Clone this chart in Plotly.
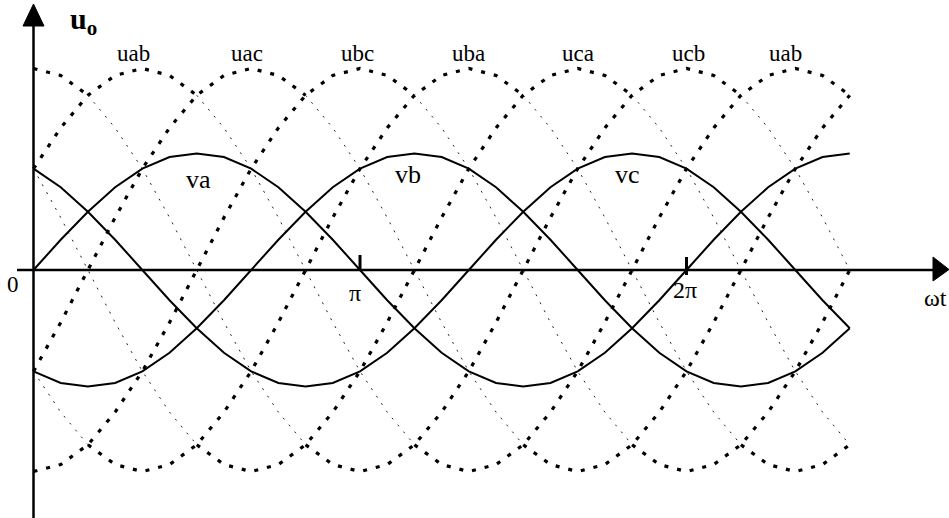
import plotly.graph_objects as go

W, H = 949, 518

# electrical angle in degrees, sampled every 15 degrees
deg = list(range(0, 451, 15))

# phase voltages (per unit)
va = [0, .26, .5, .71, .87, .97, 1, .97, .87, .71, .5, .26, 0, -.26, -.5, -.71,
      -.87, -.97, -1, -.97, -.87, -.71, -.5, -.26, 0, .26, .5, .71, .87, .97, 1]
vb = [-.87, -.97, -1, -.97, -.87, -.71, -.5, -.26, 0, .26, .5, .71, .87, .97, 1, .97,
      .87, .71, .5, .26, 0, -.26, -.5, -.71, -.87, -.97, -1, -.97, -.87, -.71, -.5]
vc = [.87, .71, .5, .26, 0, -.26, -.5, -.71, -.87, -.97, -1, -.97, -.87, -.71, -.5, -.26,
      0, .26, .5, .71, .87, .97, 1, .97, .87, .71, .5, .26, 0, -.26, -.5]

# line voltages (per unit)
uab = [.87, 1.22, 1.5, 1.67, 1.73, 1.67, 1.5, 1.22, .87, .45, 0, -.45, -.87, -1.22, -1.5, -1.67,
       -1.73, -1.67, -1.5, -1.22, -.87, -.45, 0, .45, .87, 1.22, 1.5, 1.67, 1.73, 1.67, 1.5]
uba = [-.87, -1.22, -1.5, -1.67, -1.73, -1.67, -1.5, -1.22, -.87, -.45, 0, .45, .87, 1.22, 1.5, 1.67,
       1.73, 1.67, 1.5, 1.22, .87, .45, 0, -.45, -.87, -1.22, -1.5, -1.67, -1.73, -1.67, -1.5]
ubc = [-1.73, -1.67, -1.5, -1.22, -.87, -.45, 0, .45, .87, 1.22, 1.5, 1.67, 1.73, 1.67, 1.5, 1.22,
       .87, .45, 0, -.45, -.87, -1.22, -1.5, -1.67, -1.73, -1.67, -1.5, -1.22, -.87, -.45, 0]
ucb = [1.73, 1.67, 1.5, 1.22, .87, .45, 0, -.45, -.87, -1.22, -1.5, -1.67, -1.73, -1.67, -1.5, -1.22,
       -.87, -.45, 0, .45, .87, 1.22, 1.5, 1.67, 1.73, 1.67, 1.5, 1.22, .87, .45, 0]
uca = [.87, .45, 0, -.45, -.87, -1.22, -1.5, -1.67, -1.73, -1.67, -1.5, -1.22, -.87, -.45, 0, .45,
       .87, 1.22, 1.5, 1.67, 1.73, 1.67, 1.5, 1.22, .87, .45, 0, -.45, -.87, -1.22, -1.5]
uac = [-.87, -.45, 0, .45, .87, 1.22, 1.5, 1.67, 1.73, 1.67, 1.5, 1.22, .87, .45, 0, -.45,
       -.87, -1.22, -1.5, -1.67, -1.73, -1.67, -1.5, -1.22, -.87, -.45, 0, .45, .87, 1.22, 1.5]

top_labels = ['uab', 'uac', 'ubc', 'uba', 'uca', 'ucb', 'uab']
phase_labels = ['va', 'vb', 'vc']

# pixel mapping used for the plot ranges
X0, PX_PER_DEG = 33.5, 326.5 / 180
Y0, PX_PER_UNIT = 270, 116.5


def px(x):
    return x / W


def py(y):
    return 1 - y / H


fig = go.Figure()

# line voltages: heavy dots on the envelopes / rising parts, light dots when falling between envelopes
for u in [uab, uba, ubc, ucb, uca, uac]:
    thick_x, thick_y, thin_x, thin_y = [], [], [], []
    for i in range(len(deg) - 1):
        thin = u[i + 1] < u[i] and u[i] <= 1.5 and u[i + 1] >= -1.5
        xs, ys = (thin_x, thin_y) if thin else (thick_x, thick_y)
        if xs and xs[-1] == deg[i]:
            xs.append(deg[i + 1])
            ys.append(u[i + 1])
        else:
            if xs:
                xs.append(None)
                ys.append(None)
            xs += [deg[i], deg[i + 1]]
            ys += [u[i], u[i + 1]]
    fig.add_trace(go.Scatter(x=thin_x, y=thin_y, mode='lines', showlegend=False,
                             line=dict(color='#222222', width=1, dash='2px,7px')))
    fig.add_trace(go.Scatter(x=thick_x, y=thick_y, mode='lines', showlegend=False,
                             line=dict(color='black', width=3.2, dash='4px,9px')))

# phase voltages
for v in [va, vb, vc]:
    fig.add_trace(go.Scatter(x=deg, y=v, mode='lines', showlegend=False,
                             line=dict(color='black', width=2)))

shapes = [
    # x axis with arrow
    dict(type='line', xref='paper', yref='paper', x0=px(17), x1=px(936), y0=py(270), y1=py(270),
         line=dict(color='black', width=2.5)),
    dict(type='path', xref='paper', yref='paper',
         path=f'M {px(933)} {py(257)} L {px(949)} {py(269.5)} L {px(933)} {py(281)} Z',
         fillcolor='black', line=dict(color='black', width=1)),
    # y axis with arrow
    dict(type='line', xref='paper', yref='paper', x0=px(33.5), x1=px(33.5), y0=py(22), y1=py(518),
         line=dict(color='black', width=2.5)),
    dict(type='path', xref='paper', yref='paper',
         path=f'M {px(23)} {py(26)} L {px(33.5)} {py(4)} L {px(44)} {py(26)} Z',
         fillcolor='black', line=dict(color='black', width=1)),
    # ticks at pi and 2pi
    dict(type='line', xref='x', yref='paper', x0=180, x1=180, y0=py(270), y1=py(255),
         line=dict(color='black', width=3)),
    dict(type='line', xref='x', yref='paper', x0=360, x1=360, y0=py(275), y1=py(257),
         line=dict(color='black', width=3)),
]

serif = 'Liberation Serif'
ann = []
for lab, xp in zip(top_labels, [133, 247, 357, 468, 578, 688, 785]):
    ann.append(dict(x=px(xp), y=py(53), text=lab, font=dict(size=23)))
for lab, (xp, yp) in zip(phase_labels, [(198, 180), (408, 174), (627, 174)]):
    ann.append(dict(x=px(xp), y=py(yp), text=lab, font=dict(size=26)))
ann += [
    dict(x=px(83), y=py(21), text='<b>u<sub>o</sub></b>', font=dict(size=30)),
    dict(x=px(13), y=py(284), text='0', font=dict(size=23)),
    dict(x=px(355), y=py(293), text='π', font=dict(size=24)),
    dict(x=px(685), y=py(290), text='2π', font=dict(size=24)),
    dict(x=px(935), y=py(298), text='ωt', font=dict(size=24)),
]
for a in ann:
    a.update(xref='paper', yref='paper', showarrow=False, xanchor='center', yanchor='middle')
    a['font'].update(family=serif, color='black')

fig.update_layout(
    width=W, height=H,
    margin=dict(l=0, r=0, t=0, b=0, pad=0),
    plot_bgcolor='white', paper_bgcolor='white',
    xaxis=dict(visible=False, range=[-X0 / PX_PER_DEG, (W - X0) / PX_PER_DEG], fixedrange=True),
    yaxis=dict(visible=False, range=[-(H - Y0) / PX_PER_UNIT, Y0 / PX_PER_UNIT], fixedrange=True),
    shapes=shapes,
    annotations=ann,
)

# drop the default page margin so the figure sits at the window's top-left corner
fig.write_html("out.html", config={'displayModeBar': False},
               post_script="document.body.style.margin='0';")
